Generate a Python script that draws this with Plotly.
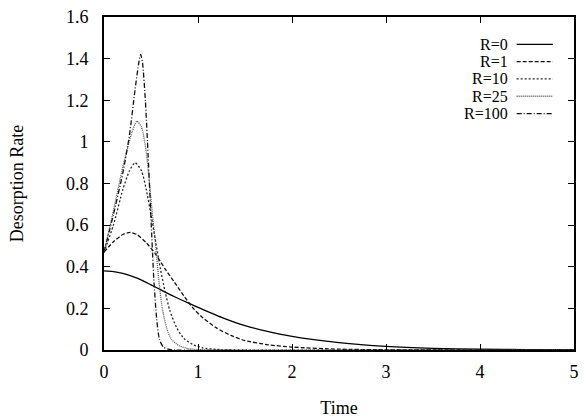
import plotly.graph_objects as go

# ---- data ----
t_R0 = [0, 0.1, 0.2, 0.3, 0.4, 0.5, 0.6, 0.75, 0.9, 1.0, 1.25, 1.5, 1.75, 2.0, 2.5, 3.0, 3.5, 4.0, 4.5, 5.0]
rate_R0 = [0.38, 0.377, 0.368, 0.354, 0.336, 0.313, 0.29, 0.256, 0.225, 0.205, 0.157, 0.117, 0.088, 0.065, 0.035, 0.017, 0.008, 0.004, 0.002, 0.001]

t_R1 = [0, 0.1, 0.2, 0.28, 0.35, 0.45, 0.55, 0.65, 0.75, 0.85, 0.95, 1.05, 1.2, 1.35, 1.5, 1.75, 2.0, 2.5, 3.0, 5.0]
rate_R1 = [0.47, 0.52, 0.555, 0.565, 0.555, 0.515, 0.46, 0.39, 0.325, 0.26, 0.2, 0.155, 0.105, 0.07, 0.045, 0.025, 0.014, 0.004, 0.001, 0]

t_R10 = [0, 0.1, 0.2, 0.27, 0.33, 0.4, 0.45, 0.5, 0.55, 0.6, 0.65, 0.7, 0.77, 0.85, 0.95, 1.05, 1.2, 1.5, 5.0]
rate_R10 = [0.47, 0.6, 0.77, 0.86, 0.9, 0.86, 0.77, 0.65, 0.52, 0.39, 0.28, 0.19, 0.11, 0.055, 0.025, 0.01, 0.003, 0, 0]

t_R25 = [0, 0.1, 0.2, 0.25, 0.3, 0.35, 0.4, 0.45, 0.49, 0.52, 0.55, 0.58, 0.62, 0.67, 0.72, 0.8, 0.9, 1.0, 1.2, 5.0]
rate_R25 = [0.47, 0.67, 0.88, 0.97, 1.05, 1.1, 1.07, 0.95, 0.77, 0.63, 0.5, 0.35, 0.2, 0.1, 0.05, 0.02, 0.006, 0.002, 0, 0]

t_R100 = [0, 0.1, 0.2, 0.27, 0.33, 0.37, 0.39, 0.41, 0.44, 0.47, 0.5, 0.53, 0.56, 0.59, 0.63, 0.68, 0.75, 5.0]
rate_R100 = [0.47, 0.65, 0.85, 1.03, 1.25, 1.38, 1.42, 1.38, 1.2, 0.93, 0.63, 0.34, 0.15, 0.05, 0.015, 0.004, 0, 0]

series_names = ["R=0", "R=1", "R=10", "R=25", "R=100"]
x_ticks = [0, 1, 2, 3, 4, 5]
x_ticklabels = ["0", "1", "2", "3", "4", "5"]
y_ticks = [0, 0.2, 0.4, 0.6, 0.8, 1.0, 1.2, 1.4, 1.6]
y_ticklabels = ["0", "0.2", "0.4", "0.6", "0.8", "1", "1.2", "1.4", "1.6"]

# ---- styles ----
dashes = ["solid", "4px,2px", "2px,2px", "1px,1px", "5px,2px,1px,2px"]
colors = ["#000000", "#111111", "#222222", "#555555", "#111111"]
FONT = "Liberation Serif"
FS = 18
FS_KEY = 16

fig = go.Figure()
data = [(t_R0, rate_R0), (t_R1, rate_R1), (t_R10, rate_R10), (t_R25, rate_R25), (t_R100, rate_R100)]
for (tx, ry), name, d, c in zip(data, series_names, dashes, colors):
    fig.add_trace(go.Scatter(
        x=tx, y=ry, mode="lines", name=name,
        line=dict(color=c, width=1.3, dash=d, shape="spline", smoothing=0.6),
        showlegend=False,
    ))

# custom gnuplot-like key: text right-aligned, sample to the right
key_top = 0.918
key_step = 0.052
for i, (name, d, c) in enumerate(zip(series_names, dashes, colors)):
    yk = key_top - i * key_step
    fig.add_annotation(
        x=0.862, y=yk, xref="paper", yref="paper", text=name,
        showarrow=False, xanchor="right", yanchor="middle", borderpad=0,
        font=dict(family=FONT, size=FS_KEY, color="black"),
    )
    fig.add_shape(
        type="line", xref="paper", yref="paper",
        x0=0.878, x1=0.955, y0=yk, y1=yk,
        line=dict(color=c, width=1.3, dash=d),
    )

axis_common = dict(
    showline=True, linecolor="black", linewidth=1.8, mirror="ticks",
    ticks="inside", ticklen=6, tickwidth=1.2, tickcolor="black",
    showgrid=False, zeroline=False, automargin=False,
    tickfont=dict(family=FONT, size=FS, color="black"),
)

fig.update_xaxes(
    range=[0, 5], tickvals=x_ticks, ticktext=x_ticklabels,
    title=dict(text="Time", font=dict(family=FONT, size=FS, color="black"), standoff=26),
    ticklabelstandoff=4,
    **axis_common,
)
fig.update_yaxes(
    range=[0, 1.6], tickvals=y_ticks, ticktext=y_ticklabels,
    title=dict(text="Desorption Rate", font=dict(family=FONT, size=FS, color="black"), standoff=38),
    ticklabelstandoff=10,
    **axis_common,
)

fig.update_layout(
    width=585, height=418,
    margin=dict(l=104, r=11, t=17, b=68),
    paper_bgcolor="white", plot_bgcolor="white",
    showlegend=False,
)

fig.write_html("out.html")
